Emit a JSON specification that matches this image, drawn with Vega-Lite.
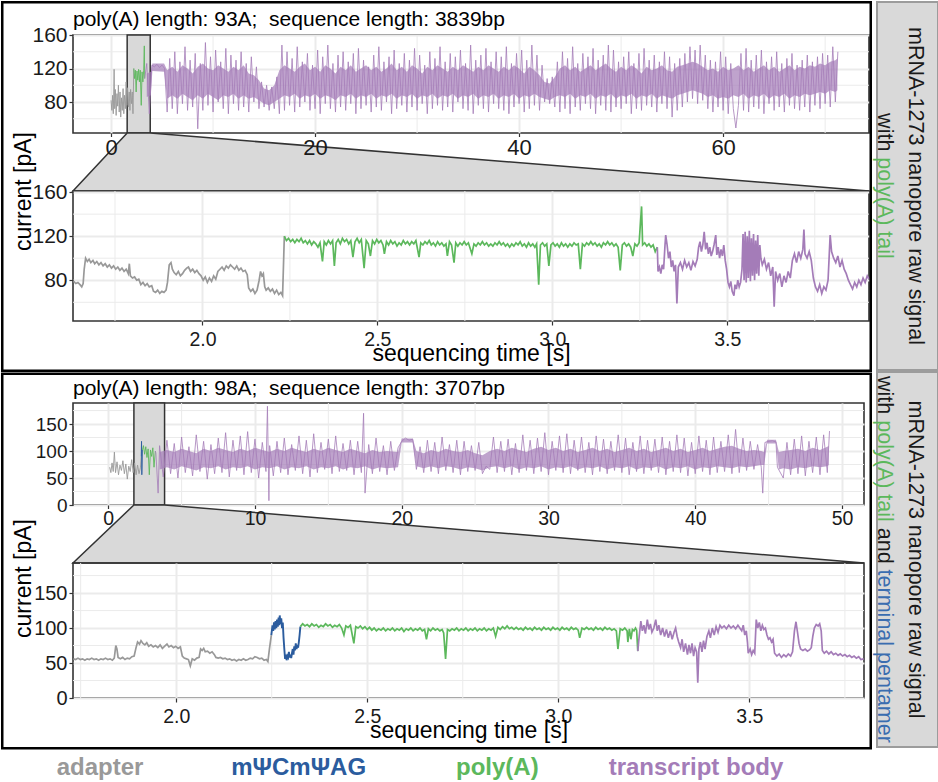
{
"$schema": "https://vega.github.io/schema/vega-lite/v6.json",
"background": "white",
"padding": 0,
"spacing": -2,
"config": {
  "font": "Liberation Sans",
  "view": {"stroke": "#333333", "strokeWidth": 1.6},
  "axis": {"domain": false, "gridColor": "#EBEBEB", "gridWidth": 2, "tickColor": "#333333", "tickWidth": 1.2, "tickSize": 4, "labelFontSize": 20, "labelColor": "#1a1a1a", "labelOverlap": false, "titleFontSize": 23, "titleFontWeight": "normal", "titleColor": "#000000"},
  "axisX": {"labelPadding": 5},
  "axisY": {"labelPadding": 2}
},
"datasets": {
  "ov1_adapter": [{"t":0.0,"v":82},{"t":0.08,"v":70},{"t":0.15,"v":88},{"t":0.22,"v":66},{"t":0.3,"v":119},{"t":0.36,"v":72},{"t":0.42,"v":95},{"t":0.5,"v":64},{"t":0.58,"v":90},{"t":0.65,"v":75},{"t":0.72,"v":100},{"t":0.8,"v":68},{"t":0.88,"v":92},{"t":0.95,"v":62},{"t":1.02,"v":85},{"t":1.1,"v":70},{"t":1.18,"v":96},{"t":1.25,"v":66},{"t":1.32,"v":88},{"t":1.4,"v":72},{"t":1.48,"v":104},{"t":1.55,"v":76},{"t":1.62,"v":97},{"t":1.7,"v":74},{"t":1.78,"v":92},{"t":1.85,"v":70},{"t":1.92,"v":95},{"t":2.0,"v":78},{"t":2.08,"v":92},{"t":2.15,"v":66},{"t":2.23,"v":120}],
  "ov1_polyA": [{"t":2.23,"v":120},{"t":2.3,"v":108},{"t":2.38,"v":118},{"t":2.46,"v":92},{"t":2.54,"v":117},{"t":2.62,"v":106},{"t":2.7,"v":119},{"t":2.78,"v":104},{"t":2.86,"v":118},{"t":2.96,"v":76},{"t":3.04,"v":116},{"t":3.12,"v":104},{"t":3.2,"v":118},{"t":3.26,"v":147},{"t":3.3,"v":108}],
  "ov1_core": [{"t":3.5,"lo":86,"hi":114},{"t":3.9,"lo":88,"hi":116},{"t":4.05,"lo":117,"hi":126},{"t":5.2,"lo":116,"hi":126},{"t":5.5,"lo":84,"hi":118},{"t":6.0,"lo":88,"hi":122},{"t":6.5,"lo":84,"hi":116},{"t":7.0,"lo":90,"hi":124},{"t":7.5,"lo":86,"hi":120},{"t":8.0,"lo":82,"hi":114},{"t":8.5,"lo":88,"hi":122},{"t":9.0,"lo":84,"hi":126},{"t":9.5,"lo":90,"hi":120},{"t":10.0,"lo":86,"hi":118},{"t":10.5,"lo":82,"hi":124},{"t":11.0,"lo":88,"hi":120},{"t":11.5,"lo":86,"hi":116},{"t":12.0,"lo":90,"hi":122},{"t":12.5,"lo":84,"hi":118},{"t":13.0,"lo":88,"hi":124},{"t":13.5,"lo":84,"hi":114},{"t":14.0,"lo":86,"hi":112},{"t":14.5,"lo":82,"hi":106},{"t":15.0,"lo":78,"hi":96},{"t":15.5,"lo":76,"hi":94},{"t":16.0,"lo":80,"hi":100},{"t":16.5,"lo":84,"hi":118},{"t":17.0,"lo":88,"hi":124},{"t":17.5,"lo":86,"hi":120},{"t":18.0,"lo":90,"hi":116},{"t":18.5,"lo":84,"hi":122},{"t":19.0,"lo":88,"hi":126},{"t":19.5,"lo":86,"hi":118},{"t":20.0,"lo":90,"hi":122},{"t":20.5,"lo":84,"hi":116},{"t":21.0,"lo":88,"hi":124},{"t":21.5,"lo":86,"hi":120},{"t":22.0,"lo":82,"hi":114},{"t":22.5,"lo":88,"hi":122},{"t":23.0,"lo":86,"hi":118},{"t":23.5,"lo":90,"hi":124},{"t":24.0,"lo":84,"hi":116},{"t":24.5,"lo":88,"hi":120},{"t":25.0,"lo":86,"hi":124},{"t":25.5,"lo":90,"hi":118},{"t":26.0,"lo":84,"hi":122},{"t":26.5,"lo":88,"hi":116},{"t":27.0,"lo":86,"hi":120},{"t":27.5,"lo":90,"hi":126},{"t":28.0,"lo":84,"hi":118},{"t":28.5,"lo":88,"hi":122},{"t":29.0,"lo":86,"hi":116},{"t":29.5,"lo":90,"hi":124},{"t":30.0,"lo":84,"hi":120},{"t":30.5,"lo":88,"hi":114},{"t":31.0,"lo":86,"hi":122},{"t":31.5,"lo":90,"hi":118},{"t":32.0,"lo":84,"hi":124},{"t":32.5,"lo":88,"hi":120},{"t":33.0,"lo":86,"hi":116},{"t":33.5,"lo":90,"hi":122},{"t":34.0,"lo":84,"hi":118},{"t":34.5,"lo":88,"hi":124},{"t":35.0,"lo":86,"hi":120},{"t":35.5,"lo":90,"hi":116},{"t":36.0,"lo":84,"hi":122},{"t":36.5,"lo":88,"hi":118},{"t":37.0,"lo":86,"hi":124},{"t":37.5,"lo":90,"hi":120},{"t":38.0,"lo":84,"hi":116},{"t":38.5,"lo":88,"hi":122},{"t":39.0,"lo":86,"hi":118},{"t":39.5,"lo":90,"hi":124},{"t":40.0,"lo":84,"hi":120},{"t":40.5,"lo":88,"hi":114},{"t":41.0,"lo":86,"hi":122},{"t":41.5,"lo":90,"hi":118},{"t":42.0,"lo":86,"hi":112},{"t":42.5,"lo":84,"hi":104},{"t":43.0,"lo":82,"hi":102},{"t":43.5,"lo":86,"hi":110},{"t":44.0,"lo":88,"hi":120},{"t":44.5,"lo":86,"hi":124},{"t":45.0,"lo":90,"hi":118},{"t":45.5,"lo":84,"hi":122},{"t":46.0,"lo":88,"hi":116},{"t":46.5,"lo":86,"hi":120},{"t":47.0,"lo":90,"hi":124},{"t":47.5,"lo":84,"hi":118},{"t":48.0,"lo":88,"hi":122},{"t":48.5,"lo":86,"hi":126},{"t":49.0,"lo":90,"hi":120},{"t":49.5,"lo":84,"hi":116},{"t":50.0,"lo":88,"hi":122},{"t":50.5,"lo":86,"hi":118},{"t":51.0,"lo":90,"hi":124},{"t":51.5,"lo":84,"hi":120},{"t":52.0,"lo":88,"hi":114},{"t":52.5,"lo":86,"hi":122},{"t":53.0,"lo":90,"hi":118},{"t":53.5,"lo":84,"hi":120},{"t":54.0,"lo":88,"hi":124},{"t":54.5,"lo":86,"hi":118},{"t":55.0,"lo":84,"hi":116},{"t":55.5,"lo":88,"hi":122},{"t":56.0,"lo":90,"hi":124},{"t":56.5,"lo":92,"hi":126},{"t":57.0,"lo":94,"hi":128},{"t":57.5,"lo":92,"hi":126},{"t":58.0,"lo":90,"hi":122},{"t":58.5,"lo":86,"hi":118},{"t":59.0,"lo":88,"hi":120},{"t":59.5,"lo":84,"hi":116},{"t":60.0,"lo":86,"hi":122},{"t":60.5,"lo":84,"hi":118},{"t":61.0,"lo":88,"hi":120},{"t":61.5,"lo":86,"hi":124},{"t":62.0,"lo":90,"hi":118},{"t":62.5,"lo":84,"hi":122},{"t":63.0,"lo":88,"hi":116},{"t":63.5,"lo":86,"hi":120},{"t":64.0,"lo":90,"hi":124},{"t":64.5,"lo":84,"hi":118},{"t":65.0,"lo":88,"hi":122},{"t":65.5,"lo":86,"hi":116},{"t":66.0,"lo":90,"hi":120},{"t":66.5,"lo":84,"hi":124},{"t":67.0,"lo":88,"hi":118},{"t":67.5,"lo":86,"hi":122},{"t":68.0,"lo":90,"hi":120},{"t":68.5,"lo":88,"hi":124},{"t":69.0,"lo":90,"hi":122},{"t":69.5,"lo":92,"hi":126},{"t":70.0,"lo":90,"hi":124},{"t":70.5,"lo":94,"hi":128},{"t":71.0,"lo":92,"hi":130},{"t":71.2,"lo":94,"hi":132}],
  "ov1_body": [{"t":3.3,"v":108},{"t":3.5,"v":126},{"t":3.75,"v":66},
    {"t":4.0,"v":124},{"t":4.25,"v":122},{"t":4.5,"v":125},{"t":4.75,"v":121},
    {"t":5.0,"v":124},{"t":5.25,"v":120},{"t":5.5,"v":68},{"t":5.75,"v":132},
    {"t":6.0,"v":72},{"t":6.25,"v":140},{"t":6.5,"v":66},{"t":6.75,"v":128},
    {"t":7.0,"v":78},{"t":7.25,"v":146},{"t":7.5,"v":70},{"t":7.75,"v":130},
    {"t":8.0,"v":74},{"t":8.25,"v":138},{"t":8.5,"v":48},{"t":8.75,"v":126},
    {"t":9.0,"v":70},{"t":9.25,"v":151},{"t":9.5,"v":76},{"t":9.75,"v":134},
    {"t":10.0,"v":68},{"t":10.25,"v":142},{"t":10.5,"v":80},{"t":10.75,"v":128},
    {"t":11.0,"v":72},{"t":11.25,"v":144},{"t":11.5,"v":66},{"t":11.75,"v":136},
    {"t":12.0,"v":78},{"t":12.25,"v":130},{"t":12.5,"v":70},{"t":12.75,"v":140},
    {"t":13.0,"v":74},{"t":13.25,"v":126},{"t":13.5,"v":68},{"t":13.75,"v":134},
    {"t":14.0,"v":80},{"t":14.25,"v":122},{"t":14.5,"v":72},{"t":14.75,"v":104},
    {"t":15.0,"v":74},{"t":15.25,"v":100},{"t":15.5,"v":70},{"t":15.75,"v":98},
    {"t":16.0,"v":72},{"t":16.25,"v":110},{"t":16.5,"v":66},{"t":16.75,"v":148},
    {"t":17.0,"v":70},{"t":17.25,"v":140},{"t":17.5,"v":76},{"t":17.75,"v":132},
    {"t":18.0,"v":68},{"t":18.25,"v":146},{"t":18.5,"v":74},{"t":18.75,"v":128},
    {"t":19.0,"v":80},{"t":19.25,"v":138},{"t":19.5,"v":70},{"t":19.75,"v":124},
    {"t":20.0,"v":72},{"t":20.25,"v":142},{"t":20.5,"v":66},{"t":20.75,"v":134},
    {"t":21.0,"v":78},{"t":21.25,"v":148},{"t":21.5,"v":72},{"t":21.75,"v":126},
    {"t":22.0,"v":68},{"t":22.25,"v":136},{"t":22.5,"v":74},{"t":22.75,"v":140},
    {"t":23.0,"v":70},{"t":23.25,"v":128},{"t":23.5,"v":78},{"t":23.75,"v":138},
    {"t":24.0,"v":66},{"t":24.25,"v":144},{"t":24.5,"v":72},{"t":24.75,"v":130},
    {"t":25.0,"v":76},{"t":25.25,"v":122},{"t":25.5,"v":68},{"t":25.75,"v":136},
    {"t":26.0,"v":74},{"t":26.25,"v":146},{"t":26.5,"v":70},{"t":26.75,"v":128},
    {"t":27.0,"v":80},{"t":27.25,"v":134},{"t":27.5,"v":66},{"t":27.75,"v":142},
    {"t":28.0,"v":72},{"t":28.25,"v":126},{"t":28.5,"v":76},{"t":28.75,"v":138},
    {"t":29.0,"v":68},{"t":29.25,"v":130},{"t":29.5,"v":74},{"t":29.75,"v":144},
    {"t":30.0,"v":70},{"t":30.25,"v":136},{"t":30.5,"v":78},{"t":30.75,"v":124},
    {"t":31.0,"v":66},{"t":31.25,"v":140},{"t":31.5,"v":72},{"t":31.75,"v":132},
    {"t":32.0,"v":76},{"t":32.25,"v":146},{"t":32.5,"v":70},{"t":32.75,"v":128},
    {"t":33.0,"v":74},{"t":33.25,"v":138},{"t":33.5,"v":68},{"t":33.75,"v":134},
    {"t":34.0,"v":80},{"t":34.25,"v":142},{"t":34.5,"v":72},{"t":34.75,"v":126},
    {"t":35.0,"v":70},{"t":35.25,"v":148},{"t":35.5,"v":66},{"t":35.75,"v":130},
    {"t":36.0,"v":76},{"t":36.25,"v":136},{"t":36.5,"v":72},{"t":36.75,"v":144},
    {"t":37.0,"v":68},{"t":37.25,"v":128},{"t":37.5,"v":78},{"t":37.75,"v":140},
    {"t":38.0,"v":72},{"t":38.25,"v":134},{"t":38.5,"v":70},{"t":38.75,"v":146},
    {"t":39.0,"v":66},{"t":39.25,"v":126},{"t":39.5,"v":74},{"t":39.75,"v":138},
    {"t":40.0,"v":78},{"t":40.25,"v":142},{"t":40.5,"v":68},{"t":40.75,"v":130},
    {"t":41.0,"v":72},{"t":41.25,"v":148},{"t":41.5,"v":76},{"t":41.75,"v":136},
    {"t":42.0,"v":70},{"t":42.25,"v":124},{"t":42.5,"v":80},{"t":42.75,"v":108},
    {"t":43.0,"v":78},{"t":43.25,"v":110},{"t":43.5,"v":74},{"t":43.75,"v":128},
    {"t":44.0,"v":68},{"t":44.25,"v":140},{"t":44.5,"v":72},{"t":44.75,"v":132},
    {"t":45.0,"v":66},{"t":45.25,"v":146},{"t":45.5,"v":74},{"t":45.75,"v":126},
    {"t":46.0,"v":70},{"t":46.25,"v":138},{"t":46.5,"v":78},{"t":46.75,"v":134},
    {"t":47.0,"v":72},{"t":47.25,"v":144},{"t":47.5,"v":66},{"t":47.75,"v":130},
    {"t":48.0,"v":76},{"t":48.25,"v":136},{"t":48.5,"v":70},{"t":48.75,"v":148},
    {"t":49.0,"v":68},{"t":49.25,"v":142},{"t":49.5,"v":74},{"t":49.75,"v":128},
    {"t":50.0,"v":72},{"t":50.25,"v":134},{"t":50.5,"v":78},{"t":50.75,"v":140},
    {"t":51.0,"v":66},{"t":51.25,"v":126},{"t":51.5,"v":72},{"t":51.75,"v":138},
    {"t":52.0,"v":70},{"t":52.25,"v":144},{"t":52.5,"v":76},{"t":52.75,"v":130},
    {"t":53.0,"v":74},{"t":53.25,"v":136},{"t":53.5,"v":68},{"t":53.75,"v":128},
    {"t":54.0,"v":78},{"t":54.25,"v":140},{"t":54.5,"v":72},{"t":54.75,"v":134},
    {"t":55.0,"v":62},{"t":55.25,"v":126},{"t":55.5,"v":70},{"t":55.75,"v":132},
    {"t":56.0,"v":74},{"t":56.25,"v":138},{"t":56.5,"v":80},{"t":56.75,"v":146},
    {"t":57.0,"v":84},{"t":57.25,"v":142},{"t":57.5,"v":78},{"t":57.75,"v":148},
    {"t":58.0,"v":82},{"t":58.25,"v":136},{"t":58.5,"v":72},{"t":58.75,"v":130},
    {"t":59.0,"v":68},{"t":59.25,"v":128},{"t":59.5,"v":74},{"t":59.75,"v":140},
    {"t":60.0,"v":70},{"t":60.25,"v":134},{"t":60.5,"v":66},{"t":60.75,"v":126},
    {"t":61.0,"v":72},{"t":61.25,"v":49},{"t":61.5,"v":76},{"t":61.75,"v":138},
    {"t":62.0,"v":70},{"t":62.25,"v":144},{"t":62.5,"v":68},{"t":62.75,"v":130},
    {"t":63.0,"v":74},{"t":63.25,"v":136},{"t":63.5,"v":72},{"t":63.75,"v":142},
    {"t":64.0,"v":66},{"t":64.25,"v":128},{"t":64.5,"v":78},{"t":64.75,"v":134},
    {"t":65.0,"v":70},{"t":65.25,"v":140},{"t":65.5,"v":74},{"t":65.75,"v":126},
    {"t":66.0,"v":68},{"t":66.25,"v":132},{"t":66.5,"v":76},{"t":66.75,"v":138},
    {"t":67.0,"v":72},{"t":67.25,"v":124},{"t":67.5,"v":70},{"t":67.75,"v":130},
    {"t":68.0,"v":74},{"t":68.25,"v":136},{"t":68.5,"v":68},{"t":68.75,"v":128},
    {"t":69.0,"v":76},{"t":69.25,"v":134},{"t":69.5,"v":72},{"t":69.75,"v":138},
    {"t":70.0,"v":78},{"t":70.25,"v":136},{"t":70.5,"v":74},{"t":70.75,"v":146},
    {"t":71.0,"v":80},{"t":71.25,"v":140}],
  "zm1_adapter": [{"t":1.632,"v":79},{"t":1.638,"v":77},{"t":1.644,"v":78},{"t":1.65,"v":76},{"t":1.655,"v":74},{"t":1.659,"v":77},{"t":1.662,"v":90},{"t":1.666,"v":100},{"t":1.671,"v":97},{"t":1.676,"v":99},{"t":1.681,"v":96},{"t":1.687,"v":98},{"t":1.692,"v":95},{"t":1.698,"v":97},{"t":1.704,"v":94},{"t":1.71,"v":96},{"t":1.716,"v":93},{"t":1.722,"v":95},{"t":1.728,"v":92},{"t":1.734,"v":94},{"t":1.74,"v":91},{"t":1.746,"v":93},{"t":1.752,"v":90},{"t":1.758,"v":92},{"t":1.764,"v":89},{"t":1.77,"v":91},{"t":1.776,"v":88},{"t":1.782,"v":90},{"t":1.788,"v":86},{"t":1.791,"v":95},{"t":1.794,"v":84},{"t":1.8,"v":82},{"t":1.806,"v":83},{"t":1.812,"v":80},{"t":1.818,"v":81},{"t":1.824,"v":76},{"t":1.83,"v":78},{"t":1.836,"v":75},{"t":1.842,"v":77},{"t":1.848,"v":74},{"t":1.855,"v":75},{"t":1.86,"v":70},{"t":1.866,"v":69},{"t":1.872,"v":71},{"t":1.878,"v":68},{"t":1.884,"v":70},{"t":1.89,"v":69},{"t":1.896,"v":71},{"t":1.9,"v":78},{"t":1.905,"v":94},{"t":1.91,"v":96},{"t":1.914,"v":90},{"t":1.919,"v":87},{"t":1.925,"v":85},{"t":1.931,"v":88},{"t":1.937,"v":84},{"t":1.943,"v":86},{"t":1.949,"v":89},{"t":1.955,"v":91},{"t":1.96,"v":92},{"t":1.966,"v":88},{"t":1.972,"v":90},{"t":1.978,"v":87},{"t":1.984,"v":89},{"t":1.99,"v":86},{"t":1.996,"v":84},{"t":2.002,"v":80},{"t":2.008,"v":83},{"t":2.014,"v":78},{"t":2.02,"v":82},{"t":2.026,"v":79},{"t":2.032,"v":84},{"t":2.038,"v":81},{"t":2.044,"v":88},{"t":2.05,"v":90},{"t":2.056,"v":92},{"t":2.062,"v":89},{"t":2.068,"v":93},{"t":2.074,"v":91},{"t":2.08,"v":94},{"t":2.086,"v":92},{"t":2.092,"v":90},{"t":2.098,"v":93},{"t":2.104,"v":89},{"t":2.11,"v":91},{"t":2.116,"v":88},{"t":2.122,"v":89},{"t":2.128,"v":85},{"t":2.132,"v":73},{"t":2.138,"v":70},{"t":2.144,"v":72},{"t":2.15,"v":68},{"t":2.156,"v":71},{"t":2.162,"v":80},{"t":2.166,"v":88},{"t":2.17,"v":84},{"t":2.174,"v":86},{"t":2.178,"v":74},{"t":2.182,"v":71},{"t":2.188,"v":73},{"t":2.194,"v":70},{"t":2.2,"v":72},{"t":2.206,"v":68},{"t":2.212,"v":71},{"t":2.218,"v":67},{"t":2.224,"v":69},{"t":2.229,"v":66},{"t":2.234,"v":120}],
  "zm1_polyA": [{"t":2.234,"v":120},{"t":2.24,"v":116},{"t":2.246,"v":118},{"t":2.252,"v":115},{"t":2.258,"v":117},{"t":2.264,"v":114},{"t":2.27,"v":117},{"t":2.276,"v":115},{"t":2.282,"v":118},{"t":2.288,"v":114},{"t":2.294,"v":116},{"t":2.3,"v":113},{"t":2.306,"v":116},{"t":2.312,"v":112},{"t":2.318,"v":115},{"t":2.324,"v":113},{"t":2.33,"v":110},{"t":2.336,"v":114},{"t":2.343,"v":97},{"t":2.348,"v":115},{"t":2.354,"v":112},{"t":2.36,"v":116},{"t":2.366,"v":113},{"t":2.372,"v":116},{"t":2.377,"v":93},{"t":2.382,"v":114},{"t":2.388,"v":117},{"t":2.394,"v":113},{"t":2.4,"v":118},{"t":2.406,"v":115},{"t":2.412,"v":117},{"t":2.418,"v":113},{"t":2.424,"v":116},{"t":2.43,"v":101},{"t":2.436,"v":115},{"t":2.442,"v":118},{"t":2.448,"v":114},{"t":2.454,"v":117},{"t":2.462,"v":91},{"t":2.468,"v":116},{"t":2.474,"v":113},{"t":2.48,"v":102},{"t":2.486,"v":116},{"t":2.492,"v":113},{"t":2.498,"v":117},{"t":2.504,"v":114},{"t":2.51,"v":116},{"t":2.516,"v":112},{"t":2.52,"v":104},{"t":2.526,"v":115},{"t":2.532,"v":112},{"t":2.538,"v":116},{"t":2.544,"v":113},{"t":2.55,"v":115},{"t":2.556,"v":111},{"t":2.562,"v":114},{"t":2.568,"v":112},{"t":2.574,"v":116},{"t":2.58,"v":113},{"t":2.586,"v":115},{"t":2.592,"v":112},{"t":2.598,"v":115},{"t":2.604,"v":113},{"t":2.61,"v":116},{"t":2.619,"v":101},{"t":2.624,"v":114},{"t":2.63,"v":112},{"t":2.636,"v":115},{"t":2.642,"v":113},{"t":2.648,"v":116},{"t":2.654,"v":112},{"t":2.66,"v":114},{"t":2.666,"v":111},{"t":2.672,"v":115},{"t":2.678,"v":112},{"t":2.684,"v":114},{"t":2.69,"v":111},{"t":2.696,"v":113},{"t":2.7,"v":102},{"t":2.706,"v":115},{"t":2.712,"v":112},{"t":2.719,"v":96},{"t":2.724,"v":114},{"t":2.73,"v":111},{"t":2.736,"v":114},{"t":2.742,"v":112},{"t":2.748,"v":115},{"t":2.754,"v":112},{"t":2.76,"v":114},{"t":2.77,"v":104},{"t":2.776,"v":113},{"t":2.782,"v":111},{"t":2.788,"v":114},{"t":2.794,"v":112},{"t":2.8,"v":115},{"t":2.806,"v":112},{"t":2.812,"v":114},{"t":2.818,"v":111},{"t":2.824,"v":113},{"t":2.83,"v":111},{"t":2.836,"v":114},{"t":2.842,"v":112},{"t":2.848,"v":115},{"t":2.854,"v":112},{"t":2.86,"v":114},{"t":2.866,"v":111},{"t":2.872,"v":113},{"t":2.878,"v":110},{"t":2.884,"v":113},{"t":2.89,"v":111},{"t":2.896,"v":114},{"t":2.902,"v":112},{"t":2.908,"v":115},{"t":2.914,"v":111},{"t":2.92,"v":113},{"t":2.926,"v":110},{"t":2.932,"v":114},{"t":2.938,"v":111},{"t":2.944,"v":113},{"t":2.95,"v":110},{"t":2.955,"v":113},{"t":2.961,"v":76},{"t":2.966,"v":112},{"t":2.972,"v":114},{"t":2.978,"v":111},{"t":2.984,"v":113},{"t":2.99,"v":93},{"t":2.996,"v":112},{"t":3.002,"v":114},{"t":3.008,"v":111},{"t":3.014,"v":113},{"t":3.02,"v":110},{"t":3.026,"v":114},{"t":3.032,"v":111},{"t":3.038,"v":113},{"t":3.044,"v":110},{"t":3.05,"v":113},{"t":3.056,"v":111},{"t":3.062,"v":114},{"t":3.068,"v":112},{"t":3.074,"v":113},{"t":3.08,"v":90},{"t":3.086,"v":113},{"t":3.092,"v":111},{"t":3.098,"v":114},{"t":3.104,"v":112},{"t":3.11,"v":115},{"t":3.116,"v":112},{"t":3.122,"v":114},{"t":3.128,"v":111},{"t":3.134,"v":113},{"t":3.14,"v":110},{"t":3.146,"v":114},{"t":3.152,"v":112},{"t":3.158,"v":115},{"t":3.164,"v":112},{"t":3.17,"v":114},{"t":3.176,"v":111},{"t":3.182,"v":113},{"t":3.188,"v":110},{"t":3.194,"v":89},{"t":3.2,"v":112},{"t":3.206,"v":114},{"t":3.212,"v":111},{"t":3.218,"v":113},{"t":3.224,"v":110},{"t":3.23,"v":102},{"t":3.236,"v":113},{"t":3.242,"v":111},{"t":3.248,"v":114},{"t":3.255,"v":147},{"t":3.258,"v":112},{"t":3.264,"v":114},{"t":3.27,"v":111},{"t":3.276,"v":113},{"t":3.282,"v":110},{"t":3.288,"v":112},{"t":3.294,"v":106},{"t":3.3,"v":110}],
  "zm1_body": [{"t":3.3,"v":110},{"t":3.302,"v":88},{"t":3.306,"v":92},{"t":3.31,"v":86},{"t":3.314,"v":94},{"t":3.318,"v":90},{"t":3.322,"v":112},{"t":3.324,"v":121},{"t":3.328,"v":112},{"t":3.332,"v":100},{"t":3.336,"v":106},{"t":3.34,"v":92},{"t":3.344,"v":98},{"t":3.348,"v":88},{"t":3.352,"v":94},{"t":3.356,"v":59},{"t":3.36,"v":92},{"t":3.366,"v":96},{"t":3.372,"v":90},{"t":3.378,"v":98},{"t":3.384,"v":92},{"t":3.39,"v":96},{"t":3.396,"v":89},{"t":3.402,"v":97},{"t":3.408,"v":93},{"t":3.414,"v":99},{"t":3.418,"v":110},{"t":3.422,"v":115},{"t":3.426,"v":106},{"t":3.43,"v":112},{"t":3.434,"v":124},{"t":3.438,"v":108},{"t":3.442,"v":114},{"t":3.446,"v":104},{"t":3.45,"v":110},{"t":3.454,"v":102},{"t":3.458,"v":106},{"t":3.462,"v":112},{"t":3.467,"v":121},{"t":3.47,"v":103},{"t":3.474,"v":110},{"t":3.478,"v":100},{"t":3.482,"v":108},{"t":3.486,"v":102},{"t":3.49,"v":112},{"t":3.494,"v":98},{"t":3.498,"v":90},{"t":3.502,"v":78},{"t":3.506,"v":74},{"t":3.51,"v":79},{"t":3.514,"v":70},{"t":3.519,"v":66},{"t":3.522,"v":76},{"t":3.526,"v":72},{"t":3.53,"v":80},{"t":3.534,"v":74},{"t":3.538,"v":78},{"t":3.542,"v":90},{"t":3.545,"v":122},{"t":3.548,"v":80},{"t":3.551,"v":124},{"t":3.554,"v":78},{"t":3.557,"v":120},{"t":3.56,"v":82},{"t":3.563,"v":125},{"t":3.566,"v":79},{"t":3.569,"v":118},{"t":3.572,"v":84},{"t":3.575,"v":122},{"t":3.578,"v":80},{"t":3.581,"v":116},{"t":3.584,"v":86},{"t":3.587,"v":121},{"t":3.59,"v":84},{"t":3.593,"v":112},{"t":3.596,"v":100},{"t":3.6,"v":94},{"t":3.606,"v":99},{"t":3.612,"v":90},{"t":3.618,"v":96},{"t":3.624,"v":84},{"t":3.63,"v":92},{"t":3.634,"v":56},{"t":3.638,"v":88},{"t":3.644,"v":80},{"t":3.65,"v":86},{"t":3.656,"v":74},{"t":3.662,"v":84},{"t":3.668,"v":78},{"t":3.674,"v":88},{"t":3.68,"v":82},{"t":3.686,"v":98},{"t":3.692,"v":104},{"t":3.698,"v":96},{"t":3.704,"v":106},{"t":3.71,"v":100},{"t":3.716,"v":108},{"t":3.719,"v":126},{"t":3.722,"v":104},{"t":3.728,"v":100},{"t":3.734,"v":106},{"t":3.74,"v":98},{"t":3.746,"v":82},{"t":3.752,"v":74},{"t":3.758,"v":70},{"t":3.764,"v":76},{"t":3.77,"v":68},{"t":3.776,"v":74},{"t":3.782,"v":71},{"t":3.788,"v":80},{"t":3.794,"v":121},{"t":3.798,"v":106},{"t":3.804,"v":100},{"t":3.81,"v":96},{"t":3.816,"v":102},{"t":3.822,"v":92},{"t":3.828,"v":98},{"t":3.834,"v":90},{"t":3.84,"v":86},{"t":3.846,"v":80},{"t":3.852,"v":76},{"t":3.858,"v":72},{"t":3.864,"v":78},{"t":3.87,"v":74},{"t":3.876,"v":80},{"t":3.882,"v":76},{"t":3.888,"v":82},{"t":3.894,"v":78},{"t":3.9,"v":84},{"t":3.905,"v":81}],
  "ov2_adapter": [{"t":0.1,"v":70},{"t":0.18,"v":60},{"t":0.26,"v":78},{"t":0.34,"v":62},{"t":0.42,"v":98},{"t":0.5,"v":60},{"t":0.6,"v":80},{"t":0.7,"v":56},{"t":0.8,"v":74},{"t":0.9,"v":64},{"t":1.0,"v":82},{"t":1.1,"v":58},{"t":1.2,"v":76},{"t":1.3,"v":48},{"t":1.4,"v":72},{"t":1.5,"v":62},{"t":1.6,"v":84},{"t":1.7,"v":60},{"t":1.8,"v":78},{"t":1.9,"v":56},{"t":2.0,"v":74},{"t":2.1,"v":58},{"t":2.2,"v":70},{"t":2.25,"v":90}],
  "ov2_pentamer": [{"t":2.25,"v":90},{"t":2.27,"v":118},{"t":2.29,"v":56},{"t":2.31,"v":76},{"t":2.33,"v":102}],
  "ov2_polyA": [{"t":2.33,"v":102},{"t":2.4,"v":110},{"t":2.48,"v":94},{"t":2.56,"v":108},{"t":2.64,"v":88},{"t":2.72,"v":104},{"t":2.8,"v":56},{"t":2.88,"v":102},{"t":2.96,"v":90},{"t":3.04,"v":106},{"t":3.12,"v":70},{"t":3.21,"v":100}],
  "ov2_core": [{"t":3.5,"lo":66,"hi":98},{"t":4.0,"lo":70,"hi":102},{"t":4.5,"lo":66,"hi":98},{"t":5.0,"lo":72,"hi":104},{"t":5.5,"lo":68,"hi":100},{"t":6.0,"lo":64,"hi":96},{"t":6.5,"lo":70,"hi":104},{"t":7.0,"lo":68,"hi":100},{"t":7.5,"lo":72,"hi":106},{"t":8.0,"lo":66,"hi":102},{"t":8.5,"lo":70,"hi":98},{"t":9.0,"lo":68,"hi":104},{"t":9.5,"lo":72,"hi":100},{"t":10.0,"lo":66,"hi":106},{"t":10.5,"lo":70,"hi":102},{"t":11.0,"lo":68,"hi":98},{"t":11.5,"lo":72,"hi":104},{"t":12.0,"lo":66,"hi":100},{"t":12.5,"lo":70,"hi":106},{"t":13.0,"lo":68,"hi":102},{"t":13.5,"lo":72,"hi":98},{"t":14.0,"lo":66,"hi":104},{"t":14.5,"lo":70,"hi":100},{"t":15.0,"lo":68,"hi":106},{"t":15.5,"lo":72,"hi":102},{"t":16.0,"lo":66,"hi":98},{"t":16.5,"lo":70,"hi":104},{"t":17.0,"lo":68,"hi":100},{"t":17.5,"lo":72,"hi":96},{"t":18.0,"lo":66,"hi":102},{"t":18.5,"lo":70,"hi":98},{"t":19.0,"lo":68,"hi":100},{"t":19.75,"lo":70,"hi":98},{"t":20.0,"lo":116,"hi":123},{"t":20.75,"lo":116,"hi":123},{"t":21.0,"lo":72,"hi":100},{"t":21.5,"lo":68,"hi":96},{"t":22.0,"lo":72,"hi":102},{"t":22.5,"lo":68,"hi":98},{"t":23.0,"lo":72,"hi":104},{"t":23.5,"lo":70,"hi":100},{"t":24.0,"lo":66,"hi":98},{"t":24.5,"lo":70,"hi":102},{"t":25.0,"lo":68,"hi":96},{"t":25.5,"lo":64,"hi":92},{"t":26.0,"lo":70,"hi":100},{"t":26.5,"lo":72,"hi":104},{"t":27.0,"lo":68,"hi":100},{"t":27.5,"lo":72,"hi":106},{"t":28.0,"lo":66,"hi":102},{"t":28.5,"lo":70,"hi":98},{"t":29.0,"lo":68,"hi":104},{"t":29.5,"lo":72,"hi":108},{"t":30.0,"lo":66,"hi":102},{"t":30.5,"lo":70,"hi":106},{"t":31.0,"lo":68,"hi":100},{"t":31.5,"lo":72,"hi":104},{"t":32.0,"lo":66,"hi":98},{"t":32.5,"lo":70,"hi":102},{"t":33.0,"lo":68,"hi":106},{"t":33.5,"lo":72,"hi":100},{"t":34.0,"lo":66,"hi":104},{"t":34.5,"lo":70,"hi":98},{"t":35.0,"lo":68,"hi":102},{"t":35.5,"lo":72,"hi":106},{"t":36.0,"lo":66,"hi":100},{"t":36.5,"lo":70,"hi":104},{"t":37.0,"lo":68,"hi":98},{"t":37.5,"lo":72,"hi":102},{"t":38.0,"lo":66,"hi":106},{"t":38.5,"lo":70,"hi":100},{"t":39.0,"lo":68,"hi":104},{"t":39.5,"lo":72,"hi":98},{"t":40.0,"lo":66,"hi":102},{"t":40.5,"lo":70,"hi":106},{"t":41.0,"lo":68,"hi":100},{"t":41.5,"lo":72,"hi":104},{"t":42.0,"lo":70,"hi":108},{"t":42.5,"lo":68,"hi":110},{"t":43.0,"lo":72,"hi":104},{"t":43.5,"lo":70,"hi":100},{"t":44.0,"lo":72,"hi":102},{"t":44.5,"lo":74,"hi":100},{"t":44.7,"lo":74,"hi":98},{"t":44.9,"lo":114,"hi":121},{"t":45.5,"lo":114,"hi":121},{"t":45.7,"lo":66,"hi":98},{"t":46.0,"lo":68,"hi":100},{"t":46.5,"lo":66,"hi":102},{"t":47.0,"lo":70,"hi":104},{"t":47.5,"lo":68,"hi":100},{"t":48.0,"lo":72,"hi":106},{"t":48.5,"lo":70,"hi":102},{"t":49.0,"lo":72,"hi":108},{"t":49.1,"lo":74,"hi":110}],
  "ov2_body": [{"t":3.21,"v":100},{"t":3.25,"v":96},{"t":3.4,"v":22},{"t":3.5,"v":110},{"t":3.75,"v":52},
    {"t":4.0,"v":120},{"t":4.25,"v":58},{"t":4.5,"v":114},{"t":4.75,"v":50},
    {"t":5.0,"v":126},{"t":5.25,"v":60},{"t":5.5,"v":108},{"t":5.75,"v":54},
    {"t":6.0,"v":130},{"t":6.25,"v":62},{"t":6.5,"v":118},{"t":6.75,"v":48},
    {"t":7.0,"v":112},{"t":7.25,"v":58},{"t":7.5,"v":124},{"t":7.75,"v":60},
    {"t":8.0,"v":134},{"t":8.25,"v":52},{"t":8.5,"v":120},{"t":8.75,"v":64},
    {"t":9.0,"v":128},{"t":9.25,"v":56},{"t":9.5,"v":136},{"t":9.75,"v":60},
    {"t":10.0,"v":122},{"t":10.25,"v":50},{"t":10.5,"v":116},{"t":10.75,"v":62},
    {"t":10.85,"v":183},{"t":10.95,"v":8},
    {"t":11.0,"v":110},{"t":11.25,"v":54},{"t":11.5,"v":118},{"t":11.75,"v":60},
    {"t":12.0,"v":124},{"t":12.25,"v":56},{"t":12.5,"v":112},{"t":12.75,"v":64},
    {"t":13.0,"v":128},{"t":13.25,"v":58},{"t":13.5,"v":120},{"t":13.75,"v":52},
    {"t":14.0,"v":132},{"t":14.25,"v":60},{"t":14.5,"v":116},{"t":14.75,"v":66},
    {"t":15.0,"v":122},{"t":15.25,"v":58},{"t":15.5,"v":128},{"t":15.75,"v":62},
    {"t":16.0,"v":114},{"t":16.25,"v":64},{"t":16.5,"v":120},{"t":16.75,"v":56},
    {"t":17.0,"v":118},{"t":17.25,"v":60},{"t":17.4,"v":170},{"t":17.5,"v":22},{"t":17.75,"v":112},
    {"t":18.0,"v":58},{"t":18.25,"v":124},{"t":18.5,"v":62},{"t":18.75,"v":110},
    {"t":19.0,"v":56},{"t":19.25,"v":118},{"t":19.5,"v":64},{"t":19.75,"v":106},
    {"t":20.0,"v":118},{"t":20.25,"v":124},{"t":20.5,"v":120},{"t":20.75,"v":122},
    {"t":21.0,"v":66},{"t":21.25,"v":108},{"t":21.5,"v":60},{"t":21.75,"v":120},
    {"t":22.0,"v":62},{"t":22.25,"v":116},{"t":22.5,"v":58},{"t":22.75,"v":126},
    {"t":23.0,"v":64},{"t":23.25,"v":112},{"t":23.5,"v":60},{"t":23.75,"v":120},
    {"t":24.0,"v":56},{"t":24.25,"v":118},{"t":24.5,"v":62},{"t":24.75,"v":110},
    {"t":25.0,"v":64},{"t":25.25,"v":116},{"t":25.5,"v":58},{"t":25.75,"v":72},
    {"t":26.0,"v":66},{"t":26.25,"v":126},{"t":26.5,"v":60},{"t":26.75,"v":118},
    {"t":27.0,"v":62},{"t":27.25,"v":122},{"t":27.5,"v":56},{"t":27.75,"v":114},
    {"t":28.0,"v":60},{"t":28.25,"v":130},{"t":28.5,"v":64},{"t":28.75,"v":120},
    {"t":29.0,"v":58},{"t":29.25,"v":124},{"t":29.5,"v":62},{"t":29.75,"v":134},
    {"t":30.0,"v":56},{"t":30.25,"v":118},{"t":30.5,"v":64},{"t":30.75,"v":128},
    {"t":31.0,"v":60},{"t":31.25,"v":132},{"t":31.5,"v":58},{"t":31.75,"v":120},
    {"t":32.0,"v":64},{"t":32.25,"v":126},{"t":32.5,"v":60},{"t":32.75,"v":116},
    {"t":33.0,"v":56},{"t":33.25,"v":128},{"t":33.5,"v":62},{"t":33.75,"v":122},
    {"t":34.0,"v":58},{"t":34.25,"v":118},{"t":34.5,"v":64},{"t":34.75,"v":130},
    {"t":35.0,"v":60},{"t":35.25,"v":124},{"t":35.5,"v":56},{"t":35.75,"v":116},
    {"t":36.0,"v":62},{"t":36.25,"v":128},{"t":36.5,"v":58},{"t":36.75,"v":120},
    {"t":37.0,"v":64},{"t":37.25,"v":122},{"t":37.5,"v":60},{"t":37.75,"v":126},
    {"t":38.0,"v":56},{"t":38.25,"v":118},{"t":38.5,"v":62},{"t":38.75,"v":130},
    {"t":39.0,"v":60},{"t":39.25,"v":124},{"t":39.5,"v":54},{"t":39.75,"v":116},
    {"t":40.0,"v":58},{"t":40.25,"v":128},{"t":40.5,"v":62},{"t":40.75,"v":120},
    {"t":41.0,"v":56},{"t":41.25,"v":126},{"t":41.5,"v":60},{"t":41.75,"v":118},
    {"t":42.0,"v":62},{"t":42.25,"v":130},{"t":42.5,"v":58},{"t":42.75,"v":140},
    {"t":43.0,"v":60},{"t":43.25,"v":124},{"t":43.5,"v":64},{"t":43.75,"v":118},
    {"t":44.0,"v":66},{"t":44.25,"v":112},{"t":44.5,"v":70},{"t":44.6,"v":22},{"t":44.75,"v":116},
    {"t":45.0,"v":118},{"t":45.25,"v":119},{"t":45.5,"v":117},{"t":45.6,"v":70},
    {"t":46.0,"v":50},{"t":46.25,"v":116},{"t":46.5,"v":56},{"t":46.75,"v":122},
    {"t":47.0,"v":58},{"t":47.25,"v":128},{"t":47.5,"v":54},{"t":47.75,"v":118},
    {"t":48.0,"v":60},{"t":48.25,"v":126},{"t":48.5,"v":56},{"t":48.75,"v":130},
    {"t":49.0,"v":60},{"t":49.15,"v":137}],
  "zm2_adapter": [{"t":1.731,"v":56},{"t":1.737,"v":55},{"t":1.743,"v":57},{"t":1.749,"v":55},{"t":1.755,"v":56},{"t":1.761,"v":54},{"t":1.767,"v":56},{"t":1.773,"v":55},{"t":1.779,"v":57},{"t":1.785,"v":55},{"t":1.791,"v":56},{"t":1.797,"v":54},{"t":1.803,"v":56},{"t":1.809,"v":55},{"t":1.815,"v":57},{"t":1.821,"v":55},{"t":1.827,"v":56},{"t":1.833,"v":54},{"t":1.838,"v":57},{"t":1.842,"v":75},{"t":1.845,"v":70},{"t":1.848,"v":58},{"t":1.854,"v":56},{"t":1.86,"v":58},{"t":1.866,"v":55},{"t":1.872,"v":57},{"t":1.878,"v":56},{"t":1.884,"v":59},{"t":1.89,"v":60},{"t":1.895,"v":72},{"t":1.899,"v":80},{"t":1.904,"v":77},{"t":1.908,"v":82},{"t":1.913,"v":78},{"t":1.918,"v":76},{"t":1.923,"v":79},{"t":1.928,"v":74},{"t":1.934,"v":76},{"t":1.94,"v":73},{"t":1.946,"v":75},{"t":1.952,"v":72},{"t":1.958,"v":76},{"t":1.964,"v":71},{"t":1.97,"v":74},{"t":1.976,"v":77},{"t":1.981,"v":73},{"t":1.987,"v":75},{"t":1.993,"v":72},{"t":1.999,"v":74},{"t":2.005,"v":71},{"t":2.011,"v":73},{"t":2.016,"v":60},{"t":2.021,"v":57},{"t":2.027,"v":56},{"t":2.032,"v":55},{"t":2.037,"v":46},{"t":2.042,"v":56},{"t":2.048,"v":54},{"t":2.054,"v":57},{"t":2.06,"v":58},{"t":2.064,"v":70},{"t":2.068,"v":68},{"t":2.072,"v":71},{"t":2.076,"v":66},{"t":2.082,"v":67},{"t":2.088,"v":64},{"t":2.094,"v":66},{"t":2.1,"v":62},{"t":2.104,"v":58},{"t":2.11,"v":57},{"t":2.116,"v":58},{"t":2.122,"v":56},{"t":2.128,"v":57},{"t":2.134,"v":55},{"t":2.14,"v":56},{"t":2.146,"v":54},{"t":2.152,"v":55},{"t":2.158,"v":53},{"t":2.164,"v":55},{"t":2.17,"v":54},{"t":2.176,"v":56},{"t":2.182,"v":54},{"t":2.188,"v":55},{"t":2.194,"v":57},{"t":2.2,"v":56},{"t":2.206,"v":59},{"t":2.212,"v":58},{"t":2.218,"v":56},{"t":2.224,"v":57},{"t":2.23,"v":54},{"t":2.236,"v":55},{"t":2.24,"v":52},{"t":2.244,"v":70},{"t":2.249,"v":90}],
  "zm2_pentamer": [{"t":2.249,"v":90},{"t":2.252,"v":104},{"t":2.254,"v":96},{"t":2.256,"v":108},{"t":2.258,"v":98},{"t":2.26,"v":110},{"t":2.262,"v":100},{"t":2.264,"v":112},{"t":2.266,"v":102},{"t":2.268,"v":115},{"t":2.27,"v":104},{"t":2.271,"v":118},{"t":2.273,"v":106},{"t":2.275,"v":114},{"t":2.277,"v":100},{"t":2.279,"v":108},{"t":2.281,"v":86},{"t":2.283,"v":70},{"t":2.285,"v":56},{"t":2.287,"v":62},{"t":2.289,"v":54},{"t":2.291,"v":60},{"t":2.293,"v":58},{"t":2.295,"v":66},{"t":2.297,"v":58},{"t":2.299,"v":62},{"t":2.301,"v":57},{"t":2.303,"v":64},{"t":2.305,"v":70},{"t":2.307,"v":62},{"t":2.309,"v":74},{"t":2.311,"v":68},{"t":2.313,"v":78},{"t":2.315,"v":70},{"t":2.317,"v":76},{"t":2.319,"v":72},{"t":2.321,"v":80},{"t":2.323,"v":90},{"t":2.325,"v":102}],
  "zm2_polyA": [{"t":2.325,"v":102},{"t":2.331,"v":106},{"t":2.337,"v":103},{"t":2.343,"v":105},{"t":2.349,"v":102},{"t":2.355,"v":106},{"t":2.361,"v":103},{"t":2.367,"v":105},{"t":2.373,"v":101},{"t":2.379,"v":104},{"t":2.385,"v":102},{"t":2.391,"v":106},{"t":2.397,"v":103},{"t":2.403,"v":105},{"t":2.409,"v":101},{"t":2.415,"v":104},{"t":2.421,"v":102},{"t":2.427,"v":105},{"t":2.433,"v":100},{"t":2.439,"v":90},{"t":2.444,"v":103},{"t":2.45,"v":101},{"t":2.456,"v":104},{"t":2.465,"v":78},{"t":2.47,"v":102},{"t":2.476,"v":100},{"t":2.482,"v":103},{"t":2.488,"v":99},{"t":2.494,"v":102},{"t":2.5,"v":98},{"t":2.506,"v":101},{"t":2.512,"v":97},{"t":2.518,"v":100},{"t":2.524,"v":96},{"t":2.53,"v":99},{"t":2.536,"v":97},{"t":2.542,"v":100},{"t":2.548,"v":96},{"t":2.554,"v":99},{"t":2.56,"v":97},{"t":2.566,"v":100},{"t":2.572,"v":96},{"t":2.578,"v":99},{"t":2.584,"v":97},{"t":2.59,"v":100},{"t":2.596,"v":95},{"t":2.602,"v":99},{"t":2.608,"v":97},{"t":2.614,"v":100},{"t":2.62,"v":96},{"t":2.626,"v":99},{"t":2.632,"v":97},{"t":2.638,"v":100},{"t":2.644,"v":96},{"t":2.65,"v":98},{"t":2.655,"v":84},{"t":2.66,"v":99},{"t":2.666,"v":96},{"t":2.672,"v":100},{"t":2.678,"v":97},{"t":2.684,"v":99},{"t":2.69,"v":96},{"t":2.696,"v":98},{"t":2.7,"v":93},{"t":2.705,"v":56},{"t":2.71,"v":98},{"t":2.716,"v":96},{"t":2.722,"v":99},{"t":2.728,"v":97},{"t":2.734,"v":100},{"t":2.74,"v":96},{"t":2.746,"v":99},{"t":2.752,"v":97},{"t":2.758,"v":100},{"t":2.764,"v":96},{"t":2.77,"v":99},{"t":2.776,"v":97},{"t":2.782,"v":100},{"t":2.788,"v":96},{"t":2.794,"v":99},{"t":2.8,"v":97},{"t":2.806,"v":100},{"t":2.812,"v":96},{"t":2.818,"v":99},{"t":2.824,"v":97},{"t":2.83,"v":100},{"t":2.836,"v":88},{"t":2.842,"v":101},{"t":2.848,"v":98},{"t":2.854,"v":102},{"t":2.86,"v":99},{"t":2.866,"v":103},{"t":2.872,"v":99},{"t":2.878,"v":101},{"t":2.884,"v":98},{"t":2.89,"v":101},{"t":2.896,"v":98},{"t":2.902,"v":100},{"t":2.908,"v":97},{"t":2.914,"v":101},{"t":2.92,"v":98},{"t":2.926,"v":100},{"t":2.932,"v":97},{"t":2.938,"v":101},{"t":2.944,"v":98},{"t":2.95,"v":100},{"t":2.956,"v":97},{"t":2.962,"v":101},{"t":2.968,"v":98},{"t":2.974,"v":100},{"t":2.98,"v":97},{"t":2.986,"v":101},{"t":2.992,"v":98},{"t":2.998,"v":100},{"t":3.004,"v":97},{"t":3.01,"v":101},{"t":3.016,"v":98},{"t":3.022,"v":100},{"t":3.028,"v":97},{"t":3.034,"v":101},{"t":3.04,"v":98},{"t":3.046,"v":100},{"t":3.052,"v":97},{"t":3.056,"v":86},{"t":3.062,"v":100},{"t":3.068,"v":98},{"t":3.074,"v":101},{"t":3.08,"v":98},{"t":3.086,"v":100},{"t":3.092,"v":97},{"t":3.098,"v":101},{"t":3.104,"v":98},{"t":3.11,"v":100},{"t":3.116,"v":97},{"t":3.122,"v":101},{"t":3.128,"v":98},{"t":3.134,"v":100},{"t":3.14,"v":97},{"t":3.146,"v":99},{"t":3.152,"v":96},{"t":3.156,"v":70},{"t":3.162,"v":99},{"t":3.168,"v":97},{"t":3.174,"v":100},{"t":3.18,"v":96},{"t":3.182,"v":80},{"t":3.186,"v":99},{"t":3.19,"v":84},{"t":3.194,"v":98},{"t":3.198,"v":96},{"t":3.202,"v":100},{"t":3.205,"v":97},{"t":3.208,"v":67}],
  "zm2_body": [{"t":3.208,"v":67},{"t":3.212,"v":90},{"t":3.216,"v":110},{"t":3.22,"v":96},{"t":3.224,"v":104},{"t":3.228,"v":92},{"t":3.233,"v":112},{"t":3.237,"v":98},{"t":3.241,"v":106},{"t":3.245,"v":94},{"t":3.25,"v":100},{"t":3.255,"v":112},{"t":3.259,"v":96},{"t":3.263,"v":104},{"t":3.268,"v":90},{"t":3.273,"v":100},{"t":3.278,"v":88},{"t":3.283,"v":98},{"t":3.288,"v":86},{"t":3.293,"v":96},{"t":3.298,"v":84},{"t":3.303,"v":94},{"t":3.307,"v":100},{"t":3.311,"v":88},{"t":3.315,"v":80},{"t":3.32,"v":72},{"t":3.324,"v":84},{"t":3.328,"v":66},{"t":3.333,"v":78},{"t":3.338,"v":62},{"t":3.342,"v":76},{"t":3.346,"v":64},{"t":3.35,"v":78},{"t":3.354,"v":60},{"t":3.358,"v":72},{"t":3.362,"v":66},{"t":3.365,"v":22},{"t":3.368,"v":70},{"t":3.372,"v":80},{"t":3.376,"v":66},{"t":3.38,"v":82},{"t":3.384,"v":70},{"t":3.389,"v":88},{"t":3.394,"v":96},{"t":3.398,"v":86},{"t":3.403,"v":100},{"t":3.408,"v":90},{"t":3.413,"v":102},{"t":3.418,"v":94},{"t":3.423,"v":104},{"t":3.428,"v":100},{"t":3.434,"v":103},{"t":3.44,"v":99},{"t":3.446,"v":104},{"t":3.452,"v":100},{"t":3.458,"v":103},{"t":3.464,"v":99},{"t":3.47,"v":104},{"t":3.475,"v":100},{"t":3.48,"v":96},{"t":3.484,"v":104},{"t":3.488,"v":90},{"t":3.492,"v":96},{"t":3.495,"v":80},{"t":3.497,"v":64},{"t":3.502,"v":70},{"t":3.506,"v":62},{"t":3.51,"v":68},{"t":3.514,"v":64},{"t":3.518,"v":112},{"t":3.522,"v":100},{"t":3.526,"v":108},{"t":3.53,"v":96},{"t":3.534,"v":104},{"t":3.538,"v":98},{"t":3.542,"v":100},{"t":3.546,"v":90},{"t":3.55,"v":84},{"t":3.554,"v":86},{"t":3.558,"v":80},{"t":3.562,"v":84},{"t":3.566,"v":64},{"t":3.572,"v":60},{"t":3.578,"v":63},{"t":3.584,"v":58},{"t":3.59,"v":62},{"t":3.596,"v":59},{"t":3.602,"v":63},{"t":3.608,"v":60},{"t":3.613,"v":66},{"t":3.618,"v":96},{"t":3.622,"v":109},{"t":3.626,"v":94},{"t":3.63,"v":78},{"t":3.634,"v":70},{"t":3.64,"v":68},{"t":3.646,"v":70},{"t":3.652,"v":67},{"t":3.658,"v":69},{"t":3.662,"v":72},{"t":3.666,"v":88},{"t":3.67,"v":100},{"t":3.675,"v":105},{"t":3.68,"v":103},{"t":3.684,"v":106},{"t":3.688,"v":96},{"t":3.691,"v":68},{"t":3.696,"v":64},{"t":3.702,"v":67},{"t":3.708,"v":63},{"t":3.714,"v":66},{"t":3.72,"v":62},{"t":3.726,"v":64},{"t":3.732,"v":61},{"t":3.738,"v":63},{"t":3.744,"v":60},{"t":3.75,"v":62},{"t":3.756,"v":59},{"t":3.762,"v":61},{"t":3.768,"v":58},{"t":3.774,"v":60},{"t":3.78,"v":57},{"t":3.786,"v":59},{"t":3.792,"v":55},{"t":3.799,"v":56}]
},
"hconcat": [
  {
    "spacing": -2.5,
    "vconcat": [
      {
        "spacing": 0,
        "bounds": "flush",
        "vconcat": [
          {
            "width": 796, "height": 32.75,
            "view": {"stroke": null},
            "data": {"values": [{"label": "poly(A) length: 93A;\u00a0 sequence length: 3839bp"}]},
            "mark": {"type": "text", "align": "left", "baseline": "alphabetic", "fontSize": 21, "dy": 7.5, "color": "#000000"},
            "encoding": {"x": {"field": "label", "type": "nominal", "scale": {"type": "point", "padding": 0, "align": 0}, "axis": null}, "text": {"field": "label"}}
          },
          {
            "width": 796, "height": 98,
            "layer": [
              {"data": {"values": [{"t": 10}, {"t": 30}, {"t": 50}, {"t": 70}]}, "mark": {"type": "rule", "color": "#EBEBEB", "strokeWidth": 1},
               "encoding": {"x": {"field": "t", "type": "quantitative", "scale": {"domain": [-3.73, 74.3], "nice": false, "zero": false},
                 "axis": {"orient": "top", "values": [0, 20, 40, 60], "labels": false, "ticks": false, "grid": true, "title": null}}}},
              {"data": {"values": [{"v": 60}, {"v": 100}, {"v": 140}]}, "mark": {"type": "rule", "color": "#EBEBEB", "strokeWidth": 1},
               "encoding": {"y": {"field": "v", "type": "quantitative", "scale": {"domain": [43, 160], "nice": false, "zero": false}, "axis": {"values": [80, 120, 160], "title": null, "grid": true, "labelFontSize": 21, "labelOverlap": false}}}},
              {"data": {"values": [{"lo": 1.58, "hi": 3.84}]}, "mark": {"type": "rect", "fill": "#D9D9D9", "stroke": "#333333", "strokeWidth": 1.5},
               "encoding": {"x": {"field": "lo", "type": "quantitative"}, "x2": {"field": "hi"}}},
              {"data": {"name": "ov1_adapter"}, "mark": {"type": "line", "color": "#999999", "strokeWidth": 0.9},
               "encoding": {"x": {"field": "t", "type": "quantitative"}, "y": {"field": "v", "type": "quantitative"}}},
              {"data": {"name": "ov1_polyA"}, "mark": {"type": "line", "color": "#5CB85C", "strokeWidth": 0.9},
               "encoding": {"x": {"field": "t", "type": "quantitative"}, "y": {"field": "v", "type": "quantitative"}}},
              {"data": {"name": "ov1_core"}, "mark": {"type": "area", "color": "#A47CB8", "opacity": 0.7},
               "encoding": {"x": {"field": "t", "type": "quantitative"}, "y": {"field": "lo", "type": "quantitative"}, "y2": {"field": "hi"}}},
              {"data": {"name": "ov1_body"}, "mark": {"type": "line", "color": "#A47CB8", "strokeWidth": 0.8},
               "encoding": {"x": {"field": "t", "type": "quantitative"}, "y": {"field": "v", "type": "quantitative"}}}
            ]
          },
          {
            "width": 796, "height": 58,
            "view": {"stroke": null},
            "data": {"values": [{"edge": 1, "lo": 1.58, "hi": 3.84}, {"edge": 0, "lo": -3.73, "hi": 74.3}]},
            "mark": {"type": "area", "orient": "horizontal", "fill": "#D9D9D9", "stroke": "#333333", "strokeWidth": 1.5},
            "encoding": {
              "y": {"field": "edge", "type": "quantitative", "scale": {"domain": [0, 1], "nice": false}, "axis": null},
              "x": {"field": "lo", "type": "quantitative", "scale": {"domain": [-3.73, 74.3], "nice": false, "zero": false},
                    "axis": {"values": [0, 20, 40, 60], "orient": "bottom", "offset": -58, "grid": false, "title": null, "zindex": 1, "tickSize": 3.5, "labelPadding": 1, "labelFontSize": 22}},
              "x2": {"field": "hi"}
            }
          },
          {
            "width": 796, "height": 130,
            "layer": [
              {"data": {"values": [{"t": 1.75}, {"t": 2.25}, {"t": 2.75}, {"t": 3.25}, {"t": 3.75}]}, "mark": {"type": "rule", "color": "#EBEBEB", "strokeWidth": 1},
               "encoding": {"x": {"field": "t", "type": "quantitative", "scale": {"domain": [1.63, 3.905], "nice": false, "zero": false},
                 "axis": {"values": [2, 2.5, 3, 3.5], "format": ".1f", "grid": true, "title": "sequencing time [s]", "titleBaseline": "alphabetic", "titleY": 39, "labelFontSize": 19.5}}}},
              {"data": {"values": [{"v": 60}, {"v": 100}, {"v": 140}]}, "mark": {"type": "rule", "color": "#EBEBEB", "strokeWidth": 1},
               "encoding": {"y": {"field": "v", "type": "quantitative", "scale": {"domain": [43, 161], "nice": false, "zero": false},
                 "axis": {"values": [80, 120, 160], "grid": true, "title": "current [pA]", "titleX": -50, "titleY": 0, "titleAngle": 270, "titleAlign": "center", "titleBaseline": "middle", "labelFontSize": 21, "labelOverlap": false}}}},
              {"data": {"name": "zm1_adapter"}, "mark": {"type": "line", "color": "#999999", "strokeWidth": 1.7},
               "encoding": {"x": {"field": "t", "type": "quantitative"}, "y": {"field": "v", "type": "quantitative"}}},
              {"data": {"name": "zm1_polyA"}, "mark": {"type": "line", "color": "#5CB85C", "strokeWidth": 1.7},
               "encoding": {"x": {"field": "t", "type": "quantitative"}, "y": {"field": "v", "type": "quantitative"}}},
              {"data": {"name": "zm1_body"}, "mark": {"type": "line", "color": "#A47CB8", "strokeWidth": 1.7},
               "encoding": {"x": {"field": "t", "type": "quantitative"}, "y": {"field": "v", "type": "quantitative"}}},
              {"data": {"values": [{}]}, "mark": {"type": "rect", "filled": false, "stroke": "#000000", "strokeWidth": 2.5},
               "encoding": {"x": {"datum": 1.42779, "type": "quantitative"}, "x2": {"datum": 3.91001}, "y": {"datum": -2.16, "type": "quantitative"}, "y2": {"datum": 332.33}}}
            ]
          }
        ]
      },
      {
        "spacing": 0,
        "bounds": "flush",
        "vconcat": [
          {
            "width": 791, "height": 29.25,
            "view": {"stroke": null},
            "data": {"values": [{"label": "poly(A) length: 98A;\u00a0 sequence length: 3707bp"}]},
            "mark": {"type": "text", "align": "left", "baseline": "alphabetic", "fontSize": 21, "dy": 7.5, "color": "#000000"},
            "encoding": {"x": {"field": "label", "type": "nominal", "scale": {"type": "point", "padding": 0, "align": 0}, "axis": null}, "text": {"field": "label"}}
          },
          {
            "width": 791, "height": 102,
            "layer": [
              {"data": {"values": [{"t": 5}, {"t": 15}, {"t": 25}, {"t": 35}, {"t": 45}]}, "mark": {"type": "rule", "color": "#EBEBEB", "strokeWidth": 1},
               "encoding": {"x": {"field": "t", "type": "quantitative", "scale": {"domain": [-2.4, 51.5], "nice": false, "zero": false},
                 "axis": {"orient": "top", "values": [0, 10, 20, 30, 40, 50], "labels": false, "ticks": false, "grid": true, "title": null}}}},
              {"data": {"values": [{"v": 25}, {"v": 75}, {"v": 125}, {"v": 175}]}, "mark": {"type": "rule", "color": "#EBEBEB", "strokeWidth": 1},
               "encoding": {"y": {"field": "v", "type": "quantitative", "scale": {"domain": [0, 189], "nice": false, "zero": false}, "axis": {"tickCount": 4, "title": null, "grid": true, "labelFontSize": 19, "labelOverlap": false, "labelSeparation": 0}}}},
              {"data": {"values": [{"lo": 1.75, "hi": 3.84}]}, "mark": {"type": "rect", "fill": "#D9D9D9", "stroke": "#333333", "strokeWidth": 1.5},
               "encoding": {"x": {"field": "lo", "type": "quantitative"}, "x2": {"field": "hi"}}},
              {"data": {"name": "ov2_adapter"}, "mark": {"type": "line", "color": "#999999", "strokeWidth": 0.9},
               "encoding": {"x": {"field": "t", "type": "quantitative"}, "y": {"field": "v", "type": "quantitative"}}},
              {"data": {"name": "ov2_pentamer"}, "mark": {"type": "line", "color": "#2B5C9E", "strokeWidth": 0.9},
               "encoding": {"x": {"field": "t", "type": "quantitative"}, "y": {"field": "v", "type": "quantitative"}}},
              {"data": {"name": "ov2_polyA"}, "mark": {"type": "line", "color": "#5CB85C", "strokeWidth": 0.9},
               "encoding": {"x": {"field": "t", "type": "quantitative"}, "y": {"field": "v", "type": "quantitative"}}},
              {"data": {"name": "ov2_core"}, "mark": {"type": "area", "color": "#A47CB8", "opacity": 0.7},
               "encoding": {"x": {"field": "t", "type": "quantitative"}, "y": {"field": "lo", "type": "quantitative"}, "y2": {"field": "hi"}}},
              {"data": {"name": "ov2_body"}, "mark": {"type": "line", "color": "#A47CB8", "strokeWidth": 0.8},
               "encoding": {"x": {"field": "t", "type": "quantitative"}, "y": {"field": "v", "type": "quantitative"}}}
            ]
          },
          {
            "width": 791, "height": 58,
            "view": {"stroke": null},
            "data": {"values": [{"edge": 1, "lo": 1.75, "hi": 3.84}, {"edge": 0, "lo": -2.4, "hi": 51.5}]},
            "mark": {"type": "area", "orient": "horizontal", "fill": "#D9D9D9", "stroke": "#333333", "strokeWidth": 1.5},
            "encoding": {
              "y": {"field": "edge", "type": "quantitative", "scale": {"domain": [0, 1], "nice": false}, "axis": null},
              "x": {"field": "lo", "type": "quantitative", "scale": {"domain": [-2.4, 51.5], "nice": false, "zero": false},
                    "axis": {"values": [0, 10, 20, 30, 40, 50], "orient": "bottom", "offset": -58, "grid": false, "title": null, "zindex": 1, "tickSize": 3.5, "labelPadding": 0.5, "labelFontSize": 19.5}},
              "x2": {"field": "hi"}
            }
          },
          {
            "width": 791, "height": 135,
            "layer": [
              {"data": {"values": [{"t": 1.75}, {"t": 2.25}, {"t": 2.75}, {"t": 3.25}, {"t": 3.75}]}, "mark": {"type": "rule", "color": "#EBEBEB", "strokeWidth": 1},
               "encoding": {"x": {"field": "t", "type": "quantitative", "scale": {"domain": [1.73, 3.8], "nice": false, "zero": false},
                 "axis": {"values": [2, 2.5, 3, 3.5], "format": ".1f", "grid": true, "title": "sequencing time [s]", "titleBaseline": "alphabetic", "titleY": 39, "labelFontSize": 19.5}}}},
              {"data": {"values": [{"v": 25}, {"v": 75}, {"v": 125}, {"v": 175}]}, "mark": {"type": "rule", "color": "#EBEBEB", "strokeWidth": 1},
               "encoding": {"y": {"field": "v", "type": "quantitative", "scale": {"domain": [0, 193], "nice": false, "zero": false},
                 "axis": {"values": [0, 50, 100, 150], "grid": true, "title": "current [pA]", "titleX": -50, "titleY": 15, "titleAngle": 270, "titleAlign": "center", "titleBaseline": "middle", "labelFontSize": 20, "labelOverlap": false}}}},
              {"data": {"name": "zm2_adapter"}, "mark": {"type": "line", "color": "#999999", "strokeWidth": 1.7},
               "encoding": {"x": {"field": "t", "type": "quantitative"}, "y": {"field": "v", "type": "quantitative"}}},
              {"data": {"name": "zm2_pentamer"}, "mark": {"type": "line", "color": "#2B5C9E", "strokeWidth": 1.9},
               "encoding": {"x": {"field": "t", "type": "quantitative"}, "y": {"field": "v", "type": "quantitative"}}},
              {"data": {"name": "zm2_polyA"}, "mark": {"type": "line", "color": "#5CB85C", "strokeWidth": 1.7},
               "encoding": {"x": {"field": "t", "type": "quantitative"}, "y": {"field": "v", "type": "quantitative"}}},
              {"data": {"name": "zm2_body"}, "mark": {"type": "line", "color": "#A47CB8", "strokeWidth": 1.7},
               "encoding": {"x": {"field": "t", "type": "quantitative"}, "y": {"field": "v", "type": "quantitative"}}},
              {"data": {"values": [{}]}, "mark": {"type": "rect", "filled": false, "stroke": "#000000", "strokeWidth": 2.5},
               "encoding": {"x": {"datum": 1.54485, "type": "quantitative"}, "x2": {"datum": 3.81764}, "y": {"datum": -71.84, "type": "quantitative"}, "y2": {"datum": 463.56}}}
            ]
          }
        ]
      },
      {
        "width": 650, "height": 34,
        "view": {"stroke": null},
        "data": {"values": [{"label": "adapter"}, {"label": "mΨCmΨAG"}, {"label": "poly(A)"}, {"label": "transcript body"}]},
        "mark": {"type": "text", "fontSize": 24, "fontWeight": "bold", "baseline": "middle"},
        "encoding": {
          "x": {"field": "label", "type": "nominal", "sort": null, "scale": {"type": "point", "padding": 0.136}, "axis": null},
          "text": {"field": "label"},
          "color": {"field": "label", "type": "nominal", "sort": null, "scale": {"domain": ["adapter", "mΨCmΨAG", "poly(A)", "transcript body"], "range": ["#999999", "#2B5C9E", "#5CB85C", "#A47CB8"]}, "legend": null}
        }
      }
    ]
  },
  {
    "spacing": 0,
    "vconcat": [
      {
        "width": 61, "height": 368,
        "view": {"fill": "#D9D9D9", "stroke": "#9C9C9C", "strokeWidth": 2},
        "layer": [
          {"data": {"values": [{"line": "first", "text": "mRNA-1273 nanopore raw signal"}]},
           "mark": {"type": "text", "angle": 90, "align": "center", "baseline": "middle", "fontSize": 21.5, "color": "#1a1a1a", "dy": 8},
           "encoding": {"x": {"field": "line", "type": "nominal", "scale": {"type": "point", "domain": ["second", "first"], "padding": 0.5}, "axis": null}, "text": {"field": "text"}}},
          {"data": {"values": [{"line": "second", "text": "with"}]},
           "mark": {"type": "text", "angle": 90, "align": "left", "baseline": "middle", "fontSize": 21.5, "color": "#1a1a1a", "dx": -72.9, "dy": 8},
           "encoding": {"x": {"field": "line", "type": "nominal"}, "text": {"field": "text"}}},
          {"data": {"values": [{"line": "second", "text": "poly(A) tail"}]},
           "mark": {"type": "text", "angle": 90, "align": "left", "baseline": "middle", "fontSize": 21.5, "color": "#5CB85C", "dx": -28.7, "dy": 8},
           "encoding": {"x": {"field": "line", "type": "nominal"}, "text": {"field": "text"}}}
        ]
      },
      {
        "width": 61, "height": 375,
        "view": {"fill": "#D9D9D9", "stroke": "#9C9C9C", "strokeWidth": 2},
        "layer": [
          {"data": {"values": [{"line": "first", "text": "mRNA-1273 nanopore raw signal"}]},
           "mark": {"type": "text", "angle": 90, "align": "center", "baseline": "middle", "fontSize": 21.5, "color": "#1a1a1a", "dy": 8},
           "encoding": {"x": {"field": "line", "type": "nominal", "scale": {"type": "point", "domain": ["second", "first"], "padding": 0.5}, "axis": null}, "text": {"field": "text"}}},
          {"data": {"values": [{"line": "second", "text": "with"}]},
           "mark": {"type": "text", "angle": 90, "align": "left", "baseline": "middle", "fontSize": 21.5, "color": "#1a1a1a", "dx": -183.5, "dy": 8},
           "encoding": {"x": {"field": "line", "type": "nominal"}, "text": {"field": "text"}}},
          {"data": {"values": [{"line": "second", "text": "poly(A) tail"}]},
           "mark": {"type": "text", "angle": 90, "align": "left", "baseline": "middle", "fontSize": 21.5, "color": "#5CB85C", "dx": -139.2, "dy": 8},
           "encoding": {"x": {"field": "line", "type": "nominal"}, "text": {"field": "text"}}},
          {"data": {"values": [{"line": "second", "text": "and"}]},
           "mark": {"type": "text", "angle": 90, "align": "left", "baseline": "middle", "fontSize": 21.5, "color": "#1a1a1a", "dx": -31.7, "dy": 8},
           "encoding": {"x": {"field": "line", "type": "nominal"}, "text": {"field": "text"}}},
          {"data": {"values": [{"line": "second", "text": "terminal pentamer"}]},
           "mark": {"type": "text", "angle": 90, "align": "left", "baseline": "middle", "fontSize": 21.5, "color": "#3A6DB0", "dx": 10.1, "dy": 8},
           "encoding": {"x": {"field": "line", "type": "nominal"}, "text": {"field": "text"}}}
        ]
      }
    ]
  }
]
}
